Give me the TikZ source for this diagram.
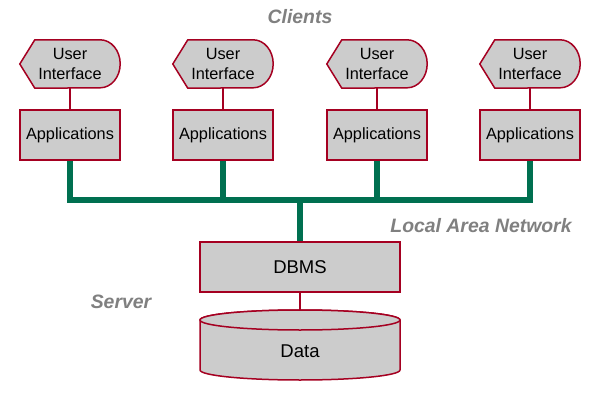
\documentclass[tikz,border=0pt]{standalone}
\usepackage{fontspec}
\setmainfont{Liberation Sans}
\usetikzlibrary{backgrounds}
\definecolor{bord}{RGB}{165,0,33}
\definecolor{boxfill}{RGB}{204,204,204}
\definecolor{busgreen}{RGB}{0,112,80}
\definecolor{lblgray}{RGB}{128,128,128}
\begin{document}
\begin{tikzpicture}[x=1pt,y=1pt,
 box/.style={draw=bord,fill=boxfill,line width=1.5pt,minimum width=100pt,minimum height=50pt,inner sep=0pt,font=\fontsize{16.3}{19}\selectfont},
 uibox/.style={minimum width=100pt,minimum height=48pt,inner sep=0pt,align=center,font=\fontsize{16.3}{20}\selectfont},
 uishape/.style={draw=bord,fill=boxfill,line width=1.5pt},
 link/.style={draw=bord,line width=1.5pt},
 bus/.style={draw=busgreen,line width=5.5pt},
 lbl/.style={text=lblgray,font=\fontsize{19.4}{22}\selectfont\bfseries\itshape},
 big/.style={font=\fontsize{18.5}{21}\selectfont}]
\useasboundingbox (0,0) rectangle (600,400);
\foreach \i/\x in {1/70,2/223,3/377,4/530}{
  \node[uibox] (ui\i) at (\x,336) {User\\Interface};
  \node[box] (a\i) at (\x,265) {Applications};
}
\begin{scope}[on background layer]
\foreach \i in {1,...,4}{
  \path[uishape] (ui\i.west) -- ([xshift=15pt]ui\i.north west) -- ([xshift=-20pt]ui\i.north east)
    arc[start angle=90,end angle=-90,x radius=20pt,y radius=24pt]
    -- ([xshift=15pt]ui\i.south west) -- cycle;
}
\end{scope}
\foreach \i in {1,...,4}{
  \draw[link] (ui\i.south) -- (a\i.north);
}
\node[box,big,minimum width=200pt] (dbms) at (300,133) {DBMS};
\coordinate (bus) at (300,200);
\draw[bus] (a1.south) -- (a1.south |- bus) -- (a4.south |- bus) -- (a4.south);
\draw[bus] (a2.south) -- (a2.south |- bus);
\draw[bus] (a3.south) -- (a3.south |- bus);
\draw[bus] (bus) -- (dbms.north);
% cylinder
\path[uishape] (200,80) -- (200,30) arc[start angle=180,end angle=360,x radius=100pt,y radius=10pt] -- (400,80) arc[start angle=0,end angle=180,x radius=100pt,y radius=10pt] -- cycle;
\draw[uishape] (300,80) ellipse[x radius=100pt,y radius=10pt];
\node[big] (data) at (300,49) {Data};
\coordinate (cyltop) at (300,90);
\draw[link] (dbms.south) -- (cyltop);
\node[lbl] (clients) at (300,383) {Clients};
\node[lbl] (lan) at (481,174) {Local Area Network};
\node[lbl] (server) at (121,98) {Server};
\end{tikzpicture}
\end{document}
